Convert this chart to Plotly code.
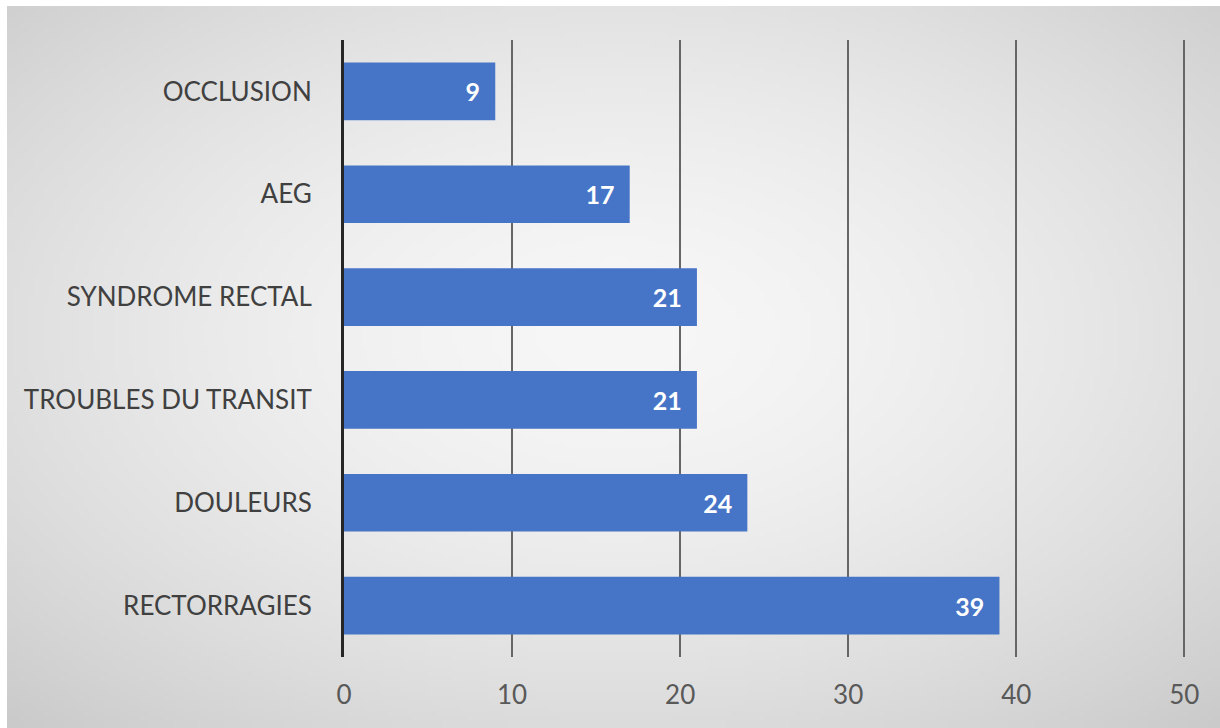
import base64
import struct
import zlib

import numpy as np
import plotly.graph_objects as go

# Symptoms, listed from top to bottom, with patient counts
categories = ["OCCLUSION", "AEG", "SYNDROME RECTAL", "TROUBLES DU TRANSIT", "DOULEURS", "RECTORRAGIES"]
counts = [9, 17, 21, 21, 24, 39]
x_ticks = [0, 10, 20, 30, 40, 50]

W, H = 1220, 728
X_MAX = 50.1  # a hair past 50 so the last gridline is drawn
L, T, B = 344, 40, 71
R = int(round(W - L - 840 * X_MAX / 50))

FONT = "Lato, 'Open Sans', sans-serif"


def gradient_png(w, h):
    """Soft radial grey backdrop encoded as a grayscale PNG data URI."""
    yy, xx = np.mgrid[0:h, 0:w]
    nx = (xx - w * 0.5) / (w * 0.5)
    ny = (yy - h * 0.45) / (h * 0.5)
    r = np.sqrt(nx ** 2 + ny ** 2)
    val = np.clip(247 - 24 * r ** 1.6, 0, 255).astype(np.uint8)
    raw = b"".join(b"\x00" + val[i].tobytes() for i in range(h))

    def chunk(tag, data):
        c = struct.pack(">I", len(data)) + tag + data
        return c + struct.pack(">I", zlib.crc32(tag + data) & 0xFFFFFFFF)

    png = b"\x89PNG\r\n\x1a\n"
    png += chunk(b"IHDR", struct.pack(">IIBBBBB", w, h, 8, 0, 0, 0, 0))
    png += chunk(b"IDAT", zlib.compress(raw, 9))
    png += chunk(b"IEND", b"")
    return "data:image/png;base64," + base64.b64encode(png).decode()


pw, ph = W - L - R, H - T - B
bg_x0, bg_y0 = 7, 6  # backdrop starts a few pixels in from the top-left

fig = go.Figure(
    go.Bar(
        y=categories,
        x=counts,
        orientation="h",
        marker=dict(color="#4674C6", line=dict(width=0)),
        # non-breaking spaces keep the value clear of the bar's end
        text=[f"{v}\u00a0\u00a0" for v in counts],
        textposition="inside",
        insidetextanchor="end",
        textfont=dict(family=FONT, size=25, color="white", weight="bold"),
        hoverinfo="skip",
    )
)

fig.update_layout(
    width=W,
    height=H,
    margin=dict(l=L, r=R, t=T, b=B, pad=0),
    paper_bgcolor="white",
    plot_bgcolor="rgba(0,0,0,0)",
    bargap=0.44,
    showlegend=False,
    font=dict(family=FONT),
    images=[
        dict(
            source=gradient_png(244, 145),
            xref="paper",
            yref="paper",
            x=(bg_x0 - L) / pw,
            y=(H - B - bg_y0) / ph,
            sizex=(W - bg_x0) / pw,
            sizey=(H - bg_y0) / ph,
            xanchor="left",
            yanchor="top",
            sizing="stretch",
            layer="below",
        )
    ],
)

fig.update_xaxes(
    range=[0, X_MAX],
    tickvals=x_ticks,
    ticktext=[str(t) for t in x_ticks],
    showgrid=True,
    gridcolor="#666666",
    gridwidth=1.5,
    zeroline=False,
    showline=False,
    ticks="",
    ticklabelstandoff=20,
    tickfont=dict(size=26, color="#595959"),
    fixedrange=True,
)

fig.update_yaxes(
    autorange="reversed",
    showline=True,
    linecolor="#262626",
    linewidth=3,
    showgrid=False,
    ticks="",
    ticklabelstandoff=24,
    tickfont=dict(size=26, color="#404040"),
    fixedrange=True,
)

fig.write_html("out.html", config={"displayModeBar": False})
